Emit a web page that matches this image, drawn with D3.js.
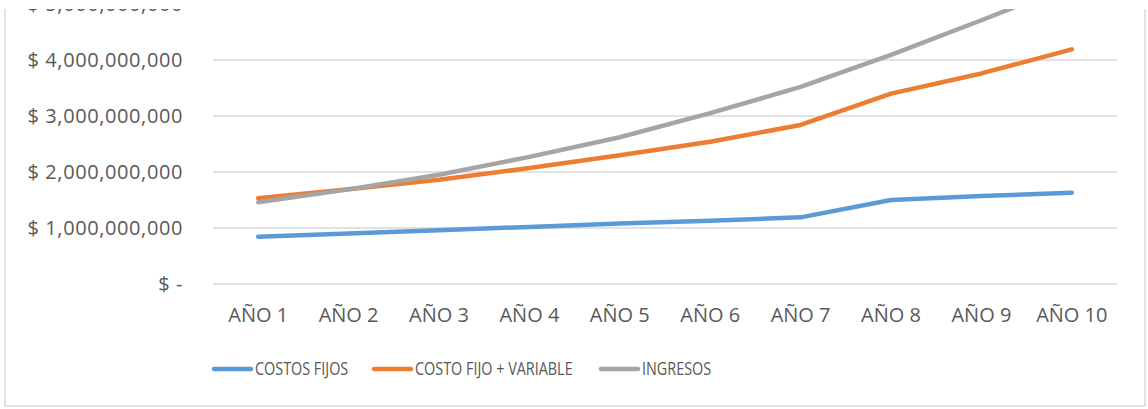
<!DOCTYPE html>
<html>
<head>
<meta charset="utf-8">
<script src="https://cdn.jsdelivr.net/npm/d3@7"></script>
<style>
  body { margin: 0; background: #fff; }
  text { font-family: "Open Sans", sans-serif; fill: #595959; }
</style>
</head>
<body>
<svg id="chart" width="1148" height="409"></svg>
<script>
// ------- data (in billions) -------
var categories = ["AÑO 1", "AÑO 2", "AÑO 3", "AÑO 4", "AÑO 5", "AÑO 6", "AÑO 7", "AÑO 8", "AÑO 9", "AÑO 10"];
var costosFijos = [0.845, 0.90, 0.96, 1.02, 1.08, 1.13, 1.19, 1.50, 1.57, 1.63];
var costoFijoVariable = [1.53, 1.69, 1.86, 2.07, 2.30, 2.54, 2.84, 3.40, 3.76, 4.19];
var ingresos = [1.46, 1.69, 1.95, 2.27, 2.62, 3.05, 3.52, 4.09, 4.71, 5.34];
var seriesNames = ["COSTOS FIJOS", "COSTO FIJO + VARIABLE", "INGRESOS"];
var yTicks = [0, 1e9, 2e9, 3e9, 4e9, 5e9, 6e9];

var colors = ["#5b9bd5", "#ed7d31", "#a5a5a5"];
var series = [costosFijos, costoFijoVariable, ingresos];

var svg = d3.select("#chart");

// chart frame (top is cut off in the reference)
svg.append("rect")
    .attr("x", 5).attr("y", -60)
    .attr("width", 1140).attr("height", 466)
    .attr("fill", "#fff")
    .attr("stroke", "#d9d9d9")
    .attr("stroke-width", 1.5);

var x = d3.scalePoint().domain(categories).range([213, 1117]).padding(0.5);
var y = d3.scaleLinear().domain([0, 6e9]).range([284, -52]);

var fmt = d3.format(",");
function moneyLabel(v) {
    return v === 0 ? "$ -" : "$ " + fmt(v);
}

// gridlines
svg.append("g").selectAll("line")
    .data(yTicks)
    .enter()
    .append("line")
    .attr("x1", 213).attr("x2", 1117)
    .attr("y1", function (d) { return y(d); })
    .attr("y2", function (d) { return y(d); })
    .attr("stroke", "#d9d9d9")
    .attr("stroke-width", 1.5);

// y labels
svg.append("g").selectAll("text")
    .data(yTicks)
    .enter()
    .append("text")
    .attr("x", 183)
    .attr("y", function (d) { return y(d); })
    .attr("dy", "0.36em")
    .attr("text-anchor", "end")
    .style("font-size", "20px")
    .style("letter-spacing", "0.6px")
    .text(moneyLabel);

// x labels
svg.append("g").selectAll("text")
    .data(categories)
    .enter()
    .append("text")
    .attr("x", function (d) { return x(d); })
    .attr("y", 315)
    .attr("dy", "0.36em")
    .attr("text-anchor", "middle")
    .style("font-size", "20px")
    .text(function (d) { return d; });

// lines
var line = d3.line()
    .x(function (d, i) { return x(categories[i]); })
    .y(function (d) { return y(d * 1e9); });

svg.append("g").selectAll("path")
    .data(series)
    .enter()
    .append("path")
    .attr("d", line)
    .attr("fill", "none")
    .attr("stroke", function (d, i) { return colors[i]; })
    .attr("stroke-width", 4.5)
    .attr("stroke-linecap", "round")
    .attr("stroke-linejoin", "round");

// legend
var legendX = [213, 373, 600];
var leg = svg.append("g").selectAll("g")
    .data(seriesNames)
    .enter()
    .append("g")
    .attr("transform", function (d, i) { return "translate(" + legendX[i] + ",369)"; });

leg.append("line")
    .attr("x1", 1).attr("x2", 38)
    .attr("stroke", function (d, i) { return colors[i]; })
    .attr("stroke-width", 4.5)
    .attr("stroke-linecap", "round");

leg.append("text")
    .attr("transform", "translate(42,0) scale(0.8,1)")
    .attr("dy", "0.36em")
    .style("font-size", "18px")
    .text(function (d) { return d; });

// the reference picture is cropped at the top
svg.append("rect")
    .attr("x", 0).attr("y", 0)
    .attr("width", 1148).attr("height", 9)
    .attr("fill", "#fff");
</script>
</body>
</html>
